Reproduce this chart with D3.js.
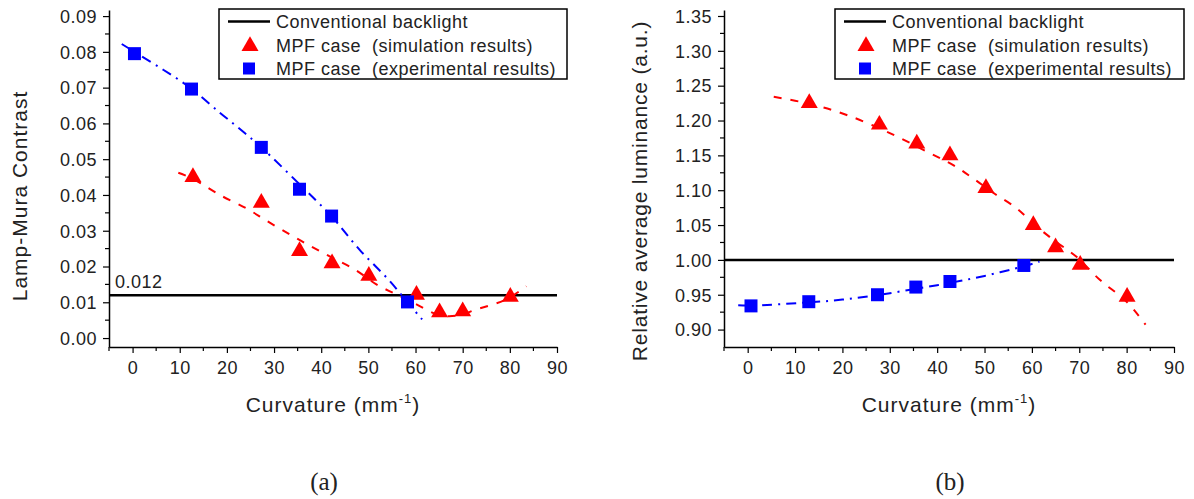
<!DOCTYPE html>
<html>
<head>
<meta charset="utf-8">
<script src="https://cdn.jsdelivr.net/npm/d3@7"></script>
<style>
  body { margin: 0; background: #fff; }
  svg { display: block; }
  text { font-family: Arial, "Liberation Sans", Helvetica, sans-serif; fill: #222; }
</style>
</head>
<body>
<div id="chart"></div>
<script>
// Tick values
const xTicks = [0, 10, 20, 30, 40, 50, 60, 70, 80, 90];
const contrastTicks = [0.00, 0.01, 0.02, 0.03, 0.04, 0.05, 0.06, 0.07, 0.08, 0.09];
const lumTicks = [0.90, 0.95, 1.00, 1.05, 1.10, 1.15, 1.20, 1.25, 1.30, 1.35];

const legendLabels = ['Conventional backlight', 'MPF case  (simulation results)', 'MPF case  (experimental results)'];

// (a) Lamp-Mura contrast
const conventionalContrast = 0.012;
const simCurvA = [12.8, 27.3, 35.4, 42.3, 50.1, 60.2, 65.1, 70.0, 80.1];
const simContrast = [0.0450, 0.0378, 0.0243, 0.0209, 0.0174, 0.0121, 0.0072, 0.0075, 0.0115];
const expCurvA = [0.4, 12.5, 27.3, 35.4, 42.2, 58.3];
const expContrast = [0.0795, 0.0696, 0.0533, 0.0416, 0.0341, 0.0101];
// fitted trend lines
const simFitCurvA = [9.7, 12.8, 18.5, 24.2, 28.4, 33.3, 37.6, 42.3, 47.1, 51.7, 55.9, 60.2, 65.1, 69.0, 72.9, 79.2, 83.5];
const simFitContrast = [0.0462, 0.0445, 0.0400, 0.0362, 0.0328, 0.0290, 0.0258, 0.0225, 0.0192, 0.0150, 0.0122, 0.0094, 0.0064, 0.0063, 0.0080, 0.0108, 0.0145];
const expFitCurvA = [-2.3, 0.4, 6.5, 12.5, 18.5, 22.7, 27.3, 35.4, 42.2, 48.2, 54.5, 58.3, 61.4];
const expFitContrast = [0.0822, 0.0800, 0.0750, 0.0697, 0.0630, 0.0585, 0.0533, 0.0430, 0.0340, 0.0246, 0.0160, 0.0100, 0.0052];

// (b) Relative average luminance
const conventionalLum = 1.00;
const simCurvB = [13.0, 27.8, 35.7, 42.7, 50.3, 60.3, 65.0, 70.2, 80.1];
const simLum = [1.225, 1.194, 1.167, 1.150, 1.103, 1.050, 1.018, 0.993, 0.947];
const expCurvB = [0.7, 12.9, 27.4, 35.5, 42.7, 58.3];
const expLum = [0.934, 0.940, 0.950, 0.961, 0.969, 0.992];
const simFitCurvB = [5.5, 13.0, 20.9, 30.0, 38.5, 43.4, 47.6, 51.9, 56.8, 60.3, 64.5, 69.5, 74.4, 80.0, 84.0];
const simFitLum = [1.234, 1.224, 1.208, 1.182, 1.153, 1.136, 1.117, 1.096, 1.074, 1.052, 1.029, 1.004, 0.971, 0.940, 0.907];
const expFitCurvB = [-2.0, 0.7, 12.9, 20.0, 27.4, 35.5, 42.7, 50.0, 58.3, 61.6];
const expFitLum = [0.935, 0.9345, 0.939, 0.943, 0.9495, 0.9585, 0.967, 0.977, 0.991, 0.9975];

const FONT = 'Arial, "Liberation Sans", Helvetica, sans-serif';

const svg = d3.select('#chart').append('svg')
    .attr('width', 1194)
    .attr('height', 499);

const zip = (xs, ys) => xs.map((x, i) => ({ x: x, y: ys[i] }));

function drawPanel(p) {
    const g = svg.append('g');
    const x = d3.scaleLinear().domain([-5, 90]).range([p.left, p.right]);
    const y = d3.scaleLinear().domain(p.yDomain).range([p.bottom, p.top]);

    // minor ticks
    const xMinor = d3.range(-5, 90, 10);
    g.selectAll('.xminor').data(xMinor).enter().append('line')
        .attr('x1', d => x(d)).attr('x2', d => x(d))
        .attr('y1', p.bottom).attr('y2', p.bottom + 4)
        .attr('stroke', '#000').attr('stroke-width', 1.2);
    const yMinor = p.yTicks.slice(0, -1).map((t, i) => (t + p.yTicks[i + 1]) / 2);
    g.selectAll('.yminor').data(yMinor).enter().append('line')
        .attr('x1', p.left - 4).attr('x2', p.left)
        .attr('y1', d => y(d)).attr('y2', d => y(d))
        .attr('stroke', '#000').attr('stroke-width', 1.2);

    // axes
    const xAxis = g.append('g')
        .attr('transform', `translate(0,${p.bottom})`)
        .call(d3.axisBottom(x).tickValues(xTicks).tickSize(6).tickSizeOuter(0).tickPadding(6));
    const yAxis = g.append('g')
        .attr('transform', `translate(${p.left},0)`)
        .call(d3.axisLeft(y).tickValues(p.yTicks).tickFormat(d3.format(p.fmt)).tickSize(6).tickSizeOuter(0).tickPadding(6));
    [xAxis, yAxis].forEach(a => {
        a.attr('font-family', null).attr('font-size', null);
        a.select('.domain').attr('stroke', '#000').attr('stroke-width', 1.5);
        a.selectAll('.tick line').attr('stroke', '#000').attr('stroke-width', 1.2);
        a.selectAll('.tick text')
            .style('font-family', FONT)
            .style('font-size', '18px')
            .style('letter-spacing', '0.5px')
            .attr('fill', '#222');
    });
    xAxis.selectAll('.tick text').attr('dy', '0.85em');
    yAxis.selectAll('.tick text').attr('dy', '0.35em');

    // conventional backlight reference
    g.append('line')
        .attr('x1', p.left).attr('x2', p.right)
        .attr('y1', y(p.ref)).attr('y2', y(p.ref))
        .attr('stroke', '#000').attr('stroke-width', 2.5);
    if (p.refLabel) {
        g.append('text')
            .attr('x', p.left + 6).attr('y', y(p.ref) - 7)
            .style('font-size', '18px').style('letter-spacing', '0.5px')
            .text(p.refLabel);
    }

    // trend lines
    const line = d3.line().x(d => x(d.x)).y(d => y(d.y)).curve(d3.curveCatmullRom);
    g.append('path').datum(zip(p.simFitX, p.simFitY))
        .attr('d', line).attr('fill', 'none')
        .attr('stroke', '#ff0000').attr('stroke-width', 2)
        .attr('stroke-dasharray', '8,9');
    g.append('path').datum(zip(p.expFitX, p.expFitY))
        .attr('d', line).attr('fill', 'none')
        .attr('stroke', '#0000ff').attr('stroke-width', 2)
        .attr('stroke-dasharray', '10,6,2,6');

    // markers
    const tri = d3.symbol(d3.symbolTriangle, 125);
    const sq = d3.symbol(d3.symbolSquare, 169);
    g.selectAll('.sim').data(zip(p.simX, p.simY)).enter().append('path')
        .attr('d', tri)
        .attr('transform', d => `translate(${x(d.x)},${y(d.y)})`)
        .attr('fill', '#ff0000');
    g.selectAll('.exp').data(zip(p.expX, p.expY)).enter().append('path')
        .attr('d', sq)
        .attr('transform', d => `translate(${x(d.x)},${y(d.y)})`)
        .attr('fill', '#0000ff');

    // legend
    const lg = g.append('g').attr('transform', `translate(${p.legendX},9)`);
    lg.append('rect')
        .attr('width', p.legendW).attr('height', 70)
        .attr('fill', '#fff').attr('stroke', '#000').attr('stroke-width', 1.5);
    const rows = [12.5, 36, 59.5];
    lg.append('line').attr('x1', 9).attr('x2', 51)
        .attr('y1', rows[0]).attr('y2', rows[0])
        .attr('stroke', '#000').attr('stroke-width', 2.5);
    lg.append('path').attr('d', tri)
        .attr('transform', `translate(31,${rows[1] + 1})`).attr('fill', '#ff0000');
    lg.append('path').attr('d', d3.symbol(d3.symbolSquare, 144))
        .attr('transform', `translate(30,${rows[2]})`).attr('fill', '#0000ff');
    lg.selectAll('.ltext').data(legendLabels).enter().append('text')
        .attr('x', 57).attr('y', (d, i) => rows[i] + 6.5)
        .style('font-size', '18px')
        .style('letter-spacing', '0.5px')
        .style('white-space', 'pre')
        .text(d => d);

    // axis titles
    const xt = g.append('text')
        .attr('x', p.xTitleX).attr('y', 412)
        .attr('text-anchor', 'middle')
        .style('font-size', '21px').style('letter-spacing', '1px');
    xt.append('tspan').text('Curvature (mm');
    xt.append('tspan').attr('dy', -9).style('font-size', '13px').text('-1');
    xt.append('tspan').attr('dy', 9).text(')');

    g.append('text')
        .attr('transform', `translate(${p.yTitleX},${p.yTitleY}) rotate(-90)`)
        .attr('text-anchor', 'middle')
        .style('font-size', '21px').style('letter-spacing', p.yTitleSpacing)
        .text(p.yTitle);

    // caption
    g.append('text')
        .attr('x', p.captionX).attr('y', 490)
        .attr('text-anchor', 'middle')
        .style('font-family', '"Times New Roman", "Liberation Serif", serif')
        .style('font-size', '25px')
        .attr('fill', '#000')
        .text(p.caption);
}

drawPanel({
    left: 109, right: 557, top: 10, bottom: 347,
    yDomain: [-0.0025, 0.0917], yTicks: contrastTicks, fmt: '.2f',
    ref: conventionalContrast, refLabel: '0.012',
    simX: simCurvA, simY: simContrast, expX: expCurvA, expY: expContrast,
    simFitX: simFitCurvA, simFitY: simFitContrast,
    expFitX: expFitCurvA, expFitY: expFitContrast,
    legendX: 219, legendW: 348,
    xTitleX: 333, yTitleX: 27, yTitleY: 196, yTitleSpacing: '1px',
    yTitle: 'Lamp-Mura Contrast', caption: '(a)', captionX: 324
});

drawPanel({
    left: 724, right: 1174, top: 10, bottom: 347,
    yDomain: [0.875, 1.3586], yTicks: lumTicks, fmt: '.2f',
    ref: conventionalLum, refLabel: null,
    simX: simCurvB, simY: simLum, expX: expCurvB, expY: expLum,
    simFitX: simFitCurvB, simFitY: simFitLum,
    expFitX: expFitCurvB, expFitY: expFitLum,
    legendX: 835, legendW: 349,
    xTitleX: 949, yTitleX: 647, yTitleY: 191, yTitleSpacing: '0.8px',
    yTitle: 'Relative average luminance (a.u.)', caption: '(b)', captionX: 950
});
</script>
</body>
</html>
